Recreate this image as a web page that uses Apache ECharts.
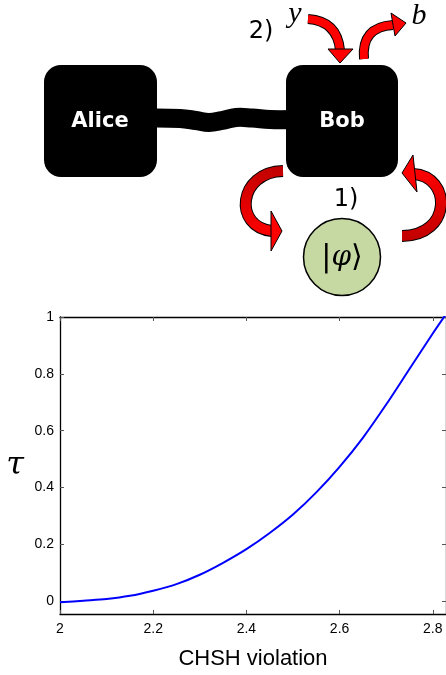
<!DOCTYPE html>
<html>
<head>
<meta charset="utf-8">
<script src="https://cdn.jsdelivr.net/npm/echarts@6/dist/echarts.min.js"></script>
<style>
  html, body { margin: 0; padding: 0; background: #fff; }
  #chart { width: 446px; height: 675px; }
</style>
</head>
<body>
<div id="chart"></div>
<script>
// CHSH violation values and tau
const chsh = [2, 2.05, 2.1, 2.15, 2.2, 2.25, 2.3, 2.35, 2.4, 2.45, 2.5, 2.55, 2.6, 2.65, 2.7, 2.75, 2.8, 2.8284]
const tau = [-0.004, 0.002, 0.008, 0.019, 0.037, 0.06, 0.093, 0.135, 0.183, 0.24, 0.305, 0.383, 0.473, 0.575, 0.692, 0.817, 0.942, 1.01]

const xTicks = [2, 2.2, 2.4, 2.6, 2.8]
const yTicks = [0, 0.2, 0.4, 0.6, 0.8, 1]

const chart = echarts.init(document.getElementById('chart'))

// bezier segment, c = [x1,y1,cpx1,cpy1,(cpx2,cpy2,)x2,y2]
function curve(c, style) {
    const shape = c.length === 8
        ? {x1: c[0], y1: c[1], cpx1: c[2], cpy1: c[3], cpx2: c[4], cpy2: c[5], x2: c[6], y2: c[7]}
        : {x1: c[0], y1: c[1], cpx1: c[2], cpy1: c[3], x2: c[4], y2: c[5]}
    return {type: 'bezierCurve', shape, style: {fill: 'none', ...style}}
}

// red ribbon arrow: outlined shaft + triangle head
function arrow(c, head, w, stroke) {
    return [
        curve(c, {stroke: '#000', lineWidth: w + 2}),
        curve(c, {stroke: stroke || '#ff0000', lineWidth: w}),
        {type: 'polygon', shape: {points: head}, style: {fill: '#ff0000', stroke: '#000', lineWidth: 1}},
    ]
}

const grad = (a, b) => ({
    type: 'linear', x: 0, y: 0, x2: 0, y2: 1,
    colorStops: [{offset: 0, color: a}, {offset: 1, color: b}],
})

const diagram = [
    // entanglement link
    {
        type: 'polyline',
        shape: {
            points: [[150, 118], [180, 118.5], [196, 120.5], [209, 122.5], [222, 120.5], [236, 117.5], [252, 118], [270, 119.5], [292, 119.5]],
            smooth: 0.4,
        },
        style: {fill: 'none', stroke: '#000', lineWidth: 19},
    },
    {type: 'rect', shape: {x: 44, y: 65, width: 113, height: 112, r: 17}, style: {fill: '#000'}},
    {type: 'rect', shape: {x: 286, y: 65, width: 112, height: 112, r: 17}, style: {fill: '#000'}},
    {
        type: 'text', x: 100, y: 122,
        style: {text: 'Alice', fill: '#fff', font: 'bold 21px "DejaVu Sans"', align: 'center', verticalAlign: 'middle'},
    },
    {
        type: 'text', x: 342, y: 122,
        style: {text: 'Bob', fill: '#fff', font: 'bold 21px "DejaVu Sans"', align: 'center', verticalAlign: 'middle'},
    },
    ...arrow([308, 19, 337, 21, 340, 50], [[328, 49], [353, 49], [340, 63]], 8),
    ...arrow([364, 59, 361, 27, 393, 25], [[391, 13], [406, 23], [395, 36]], 8),
    ...arrow([283, 171, 238, 172, 233, 227, 272, 231], [[271, 211], [282, 231], [271, 251]], 10, grad('#c00000', '#ff0000')),
    ...arrow([402, 236, 452, 236, 452, 176, 413, 174], [[413, 155], [402, 173], [417, 192]], 10, grad('#ff0000', '#c00000')),
    {type: 'circle', shape: {cx: 342, cy: 257, r: 38.5}, style: {fill: '#c6d9a2', stroke: '#000', lineWidth: 1.5}},
    {
        type: 'text', x: 342, y: 258,
        style: {
            text: '{b||}{p|φ}{b|⟩}', align: 'center', verticalAlign: 'middle',
            rich: {
                b: {font: '30px "DejaVu Sans"', fill: '#000'},
                p: {font: 'italic 28px "DejaVu Serif"', fill: '#000'},
            },
        },
    },
    {
        type: 'text', x: 261, y: 32,
        style: {text: '2)', fill: '#000', font: '24px "DejaVu Sans"', align: 'center', verticalAlign: 'middle'},
    },
    {
        type: 'text', x: 346, y: 200,
        style: {text: '1)', fill: '#000', font: '24px "DejaVu Sans"', align: 'center', verticalAlign: 'middle'},
    },
    {
        type: 'text', x: 295, y: 14,
        style: {text: 'y', fill: '#000', font: 'italic 30px "Liberation Serif"', align: 'center', verticalAlign: 'middle'},
    },
    {
        type: 'text', x: 419, y: 16,
        style: {text: 'b', fill: '#000', font: 'italic 30px "Liberation Serif"', align: 'center', verticalAlign: 'middle'},
    },
]

const tickStyle = {show: true, inside: true, length: 4, lineStyle: {color: '#555'}}
const lineStyle = {show: true, onZero: false, lineStyle: {color: '#000', width: 1.3}}

chart.setOption({
    backgroundColor: '#fff',
    animation: false,
    grid: {left: 60, top: 317, width: 388, height: 297},
    graphic: diagram,
    xAxis: [
        {
            type: 'value',
            min: 2,
            max: 2.8284,
            axisLine: lineStyle,
            axisTick: {...tickStyle, customValues: xTicks},
            axisLabel: {
                customValues: xTicks,
                color: '#000',
                fontFamily: 'Liberation Sans',
                fontSize: 14,
                margin: 8,
            },
            splitLine: {show: false},
            name: 'CHSH violation',
            nameLocation: 'middle',
            nameGap: 34,
            nameTextStyle: {color: '#000', fontFamily: 'Liberation Sans', fontSize: 22},
        },
        {
            type: 'value',
            position: 'top',
            min: 2,
            max: 2.8284,
            axisLine: lineStyle,
            axisTick: {...tickStyle, customValues: xTicks},
            axisLabel: {show: false},
            splitLine: {show: false},
        },
    ],
    yAxis: [
        {
            type: 'value',
            min: -0.045,
            max: 1,
            axisLine: lineStyle,
            axisTick: {...tickStyle, customValues: yTicks},
            axisLabel: {
                customValues: yTicks,
                color: '#000',
                fontFamily: 'Liberation Sans',
                fontSize: 14,
                margin: 6,
            },
            splitLine: {show: false},
            name: 'τ',
            nameLocation: 'middle',
            nameRotate: 0,
            nameGap: 36,
            nameTextStyle: {color: '#000', fontFamily: 'DejaVu Serif', fontStyle: 'italic', fontSize: 32},
        },
        {
            type: 'value',
            position: 'right',
            min: -0.045,
            max: 1,
            axisLine: lineStyle,
            axisTick: {...tickStyle, customValues: yTicks},
            axisLabel: {show: false},
            splitLine: {show: false},
        },
    ],
    series: [
        {
            type: 'line',
            data: chsh.map((x, i) => [x, tau[i]]),
            smooth: 0.3,
            showSymbol: false,
            lineStyle: {color: '#0000ff', width: 2},
        },
    ],
})
</script>
</body>
</html>
